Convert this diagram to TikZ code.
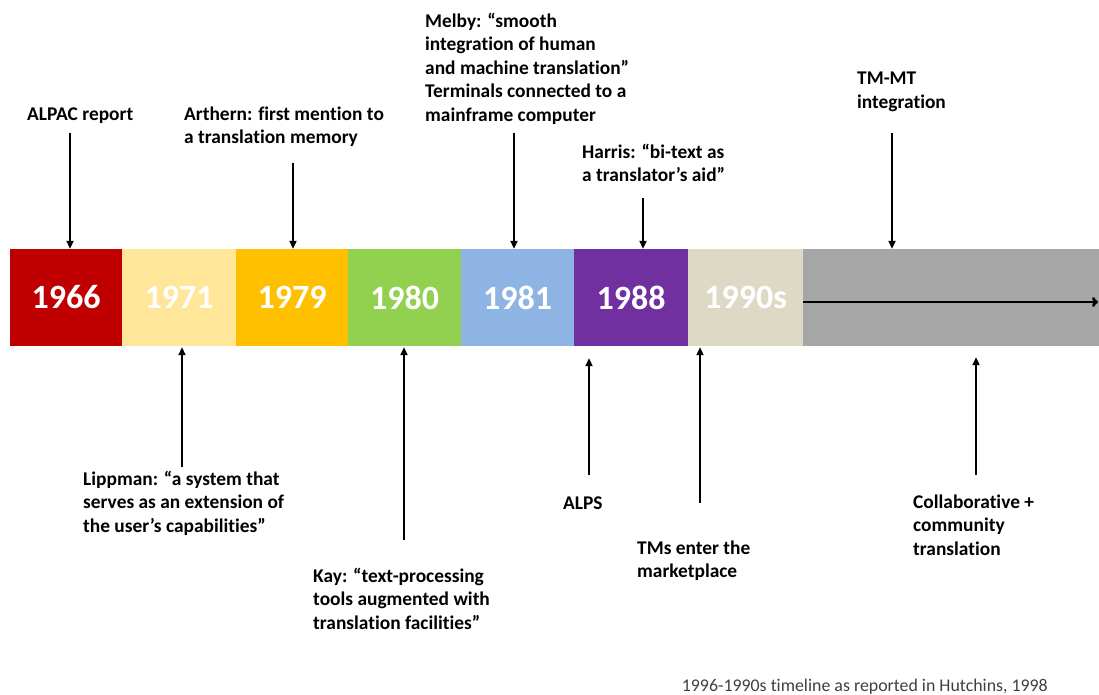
\documentclass[tikz,border=0pt]{standalone}
\usepackage{fontspec}
\setmainfont{Carlito}[Ligatures=NoCommon]
\usetikzlibrary{arrows.meta}
\definecolor{c66}{HTML}{C00000}
\definecolor{c71}{HTML}{FFE699}
\definecolor{c79}{HTML}{FFC000}
\definecolor{c80}{HTML}{92D050}
\definecolor{c81}{HTML}{8EB4E3}
\definecolor{c88}{HTML}{7030A0}
\definecolor{c90}{HTML}{DDD9C4}
\definecolor{cgr}{HTML}{A6A6A6}
\definecolor{capc}{HTML}{404040}
\tikzset{
  seg/.style={draw=none, inner sep=0pt, minimum height=97pt, anchor=west,
    font=\fontsize{34}{40}\selectfont\bfseries, text=white},
  lbl/.style={inner sep=0pt, anchor=base west, align=left,
    font=\fontsize{19.4}{23.5}\selectfont\bfseries, text=black},
  arr/.style={line width=2pt, -{Triangle[length=8pt,width=7pt]}},
  harr/.style={line width=2.8pt, -{To[length=6pt,width=10pt]}}
}
\begin{document}
\begin{tikzpicture}[x=1pt,y=-1pt]
\useasboundingbox (0,0) rectangle (1099,694);
% bar segments
\node[seg, fill=c66, minimum width=112pt] (y66) at (10,297.5) {1966};
\node[seg, fill=c71, minimum width=114pt] (y71) at (122,297.5) {1971};
\node[seg, fill=c79, minimum width=112pt] (y79) at (236,297.5) {1979};
\node[seg, fill=c80, minimum width=113pt] (y80) at (348,297.5) {1980};
\node[seg, fill=c81, minimum width=113pt] (y81) at (461,297.5) {1981};
\node[seg, fill=c88, minimum width=114pt] (y88) at (574,297.5) {1988};
\node[seg, fill=c90, minimum width=115pt] (y90) at (688,297.5) {1990s};
\node[seg, fill=cgr, minimum width=296pt] (ygr) at (803,297.5) {};
\coordinate (hs) at (803,302);
\coordinate (he) at (1098,302);
\draw[harr] (hs) -- (he);
% labels above (anchor = baseline of last line)
\node[lbl] (alpac) at (27,120) {ALPAC report};
\node[lbl] (arthern) at (184,143.5) {Arthern: first mention to\\a translation memory};
\node[lbl] (melby) at (425,121) {Melby: “smooth\\integration of human\\and machine translation”\\Terminals connected to a\\mainframe computer};
\node[lbl] (harris) at (582,181.5) {Harris: “bi-text as\\a translator’s aid”};
\node[lbl] (tmmt) at (857,108) {TM-MT\\integration};
% labels below
\node[lbl] (lippman) at (83,532) {Lippman: “a system that\\serves as an extension of\\the user’s capabilities”};
\node[lbl] (kay) at (313,629) {Kay: “text-processing\\tools augmented with\\translation facilities”};
\node[lbl] (alps) at (563,509) {ALPS};
\node[lbl] (tms) at (637,577.5) {TMs enter the\\marketplace};
\node[lbl] (collab) at (913,555) {Collaborative +\\community\\translation};
% caption
\node[inner sep=0pt, anchor=base east, text=capc, font=\fontsize{17.85}{20}\selectfont] (cap) at (1048,691) {1996-1990s timeline as reported in Hutchins, 1998};
% arrow tails
\coordinate (tA) at (70,133);
\coordinate (tB) at (293,163);
\coordinate (tC) at (514,133);
\coordinate (tD) at (643,198);
\coordinate (tE) at (892,133);
\coordinate (bA) at (182,467);
\coordinate (bB) at (404,540);
\coordinate (bC) at (589,475);
\coordinate (bD) at (700,503);
\coordinate (bE) at (976,475);
\draw[arr] (tA) -- (tA |- y66.north);
\draw[arr] (tB) -- (tB |- y79.north);
\draw[arr] (tC) -- (tC |- y81.north);
\draw[arr] (tD) -- (tD |- y88.north);
\draw[arr] (tE) -- (tE |- ygr.north);
\draw[arr] (bA) -- ([yshift=-1pt]bA |- y71.south);
\draw[arr] (bB) -- ([yshift=-1pt]bB |- y80.south);
\draw[arr] (bC) -- ([yshift=-12pt]bC |- y88.south);
\draw[arr] (bD) -- ([yshift=-1pt]bD |- y90.south);
\draw[arr] (bE) -- ([yshift=-11pt]bE |- ygr.south);
\end{tikzpicture}
\end{document}
